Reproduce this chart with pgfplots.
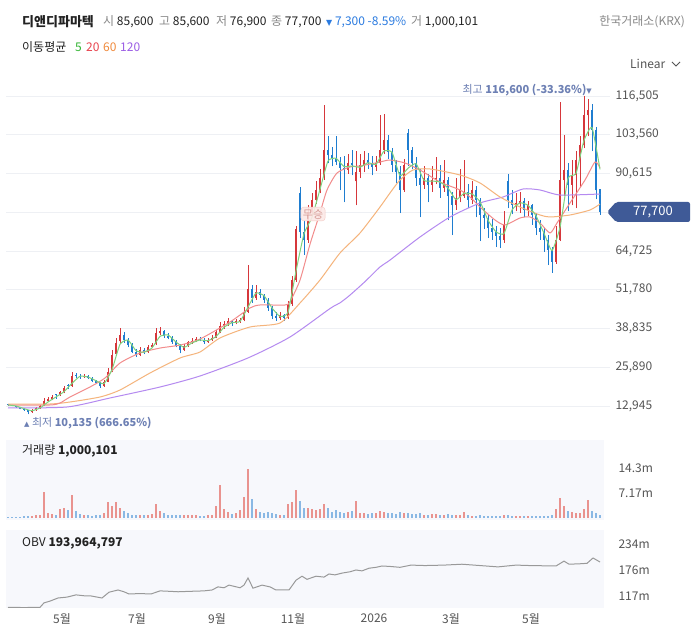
\documentclass[border=0pt]{standalone}
\usepackage{pgfplots}
\pgfplotsset{compat=1.18}
\usepackage{pgfplotstable}
\usepackage{fontspec}
\setmainfont{Noto Sans CJK KR}
\newfontfamily\sym{DejaVu Sans}
\definecolor{upc}{HTML}{D6373B}
\definecolor{dnc}{HTML}{1F7DD0}
\definecolor{volup}{HTML}{E9938F}
\definecolor{voldn}{HTML}{8AB8E4}
\definecolor{maA}{HTML}{7ED37E}
\definecolor{maB}{HTML}{F28C8C}
\definecolor{maC}{HTML}{F5B47C}
\definecolor{maD}{HTML}{B58AF0}
\definecolor{lA}{HTML}{34B534}
\definecolor{lB}{HTML}{E8434D}
\definecolor{lC}{HTML}{F08A3C}
\definecolor{lD}{HTML}{9B5DE5}
\definecolor{gridc}{HTML}{EEF0F4}
\definecolor{tickc}{HTML}{555555}
\definecolor{lab}{HTML}{888888}
\definecolor{num}{HTML}{222222}
\definecolor{chg}{HTML}{2B7BE0}
\definecolor{hl}{HTML}{6D80B4}
\definecolor{tagc}{HTML}{3F5A97}
\definecolor{panelc}{HTML}{F7F8FC}
\definecolor{obvc}{HTML}{999999}
\definecolor{mupink}{HTML}{FCE9E7}
\definecolor{mupinkd}{HTML}{F3C9C4}
\definecolor{mutext}{HTML}{D59C96}

\pgfplotsset{
  candle/.style 2 args={draw=none, no markers, forget plot,
    error bars/.cd, y dir=plus, y explicit, error mark=none,
    error bar style={draw=#1, line width=#2}, /pgfplots/.cd},
  isup/.style={restrict expr to domain={\thisrow{c}-\thisrow{o}}{0:1000}},
  isdn/.style={restrict expr to domain={\thisrow{c}-\thisrow{o}}{-1000:-0.0001}},
}

% x = pixel position, o h l c in thousand won, v in million shares
\pgfplotstableread{
x o h l c v
8 13.5 13.7 13.1 13.3 0.4
12 13.3 13.4 12.8 12.95 0.3
16 12.95 13.1 12.4 12.6 0.3
20 12.6 12.7 11.8 12.0 0.4
24 12.0 12.2 11.4 11.6 0.5
28 11.6 11.7 10.135 10.9 0.6
32 10.9 11.9 10.7 11.6 0.7
36 11.6 12.5 11.4 12.3 0.8
40 12.3 13.3 12.1 12.95 1.0
44 13.0 15.5 12.9 14.6 7.5
48 14.6 15.8 14.2 15.3 1.5
52 15.3 16.5 14.9 16.0 1.2
56 16.8 17.0 15.4 16.6 1.0
60 16.6 18.0 16.3 17.6 2.5
64 17.6 19.5 17.2 18.95 2.8
68 19.9 20.2 18.5 19.6 2.2
72 19.6 24.3 19.4 23.0 6.6
76 23.2 24.0 22.2 23.0 2.0
80 23.0 23.6 22.1 22.6 1.2
84 22.6 23.5 22.3 23.0 0.9
88 23.0 23.3 21.9 22.3 0.8
92 22.3 22.6 20.9 21.3 0.7
96 21.3 21.7 20.2 20.6 0.8
100 20.6 21.0 19.0 19.6 0.9
104 19.6 21.5 19.3 21.0 1.4
108 21.0 25.5 20.8 24.3 4.6
112 24.5 31.5 24.2 30.0 3.5
116 30.2 35.5 29.8 34.0 4.6
120 34.5 39.0 33.5 36.7 3.0
124 36.7 37.5 34.0 35.0 2.0
128 35.0 35.8 32.5 33.3 1.4
132 33.3 34.0 30.5 31.0 1.0
136 31.0 32.0 29.3 30.0 1.0
140 30.0 32.5 29.8 31.7 1.0
144 31.7 32.3 30.3 31.0 0.8
148 31.0 33.3 30.8 32.7 1.0
152 32.7 34.0 32.2 33.3 1.2
156 33.5 39.0 33.3 37.3 4.0
160 37.3 39.5 36.5 38.0 2.0
164 38.0 38.5 35.8 36.3 1.5
168 36.3 37.2 35.2 35.7 1.0
172 35.7 36.2 33.8 34.3 0.9
176 34.3 35.0 32.5 33.0 0.8
180 33.0 33.5 30.5 31.7 1.0
184 31.7 33.5 31.3 33.0 0.9
188 33.0 34.8 32.7 34.3 0.8
192 34.3 35.5 33.8 34.7 0.8
196 34.7 36.0 34.3 35.3 0.9
200 35.3 35.9 34.5 35.0 0.7
204 35.0 35.5 33.8 34.3 0.7
208 34.3 35.6 34.0 35.0 0.8
212 35.0 36.5 34.8 35.7 0.9
216 35.7 38.5 35.5 37.7 3.5
220 37.7 41.0 37.3 39.7 9.5
224 39.7 41.5 38.8 40.3 2.5
228 40.3 42.3 39.8 41.3 1.6
232 41.3 41.8 39.8 40.7 1.2
236 40.7 42.0 40.2 41.3 1.3
240 41.3 42.5 40.8 41.7 2.4
244 41.7 46.0 41.2 44.3 6.0
248 44.5 60.0 44.0 52.0 14.0
252 52.0 53.5 47.5 49.0 5.5
256 49.0 53.5 48.5 51.0 2.5
260 51.0 52.0 49.0 50.0 1.8
264 50.0 50.5 47.5 48.4 1.5
268 48.4 49.0 44.8 45.7 1.6
272 45.7 46.5 42.0 43.0 1.4
276 43.0 44.5 41.5 42.3 1.2
280 42.3 44.3 41.8 43.3 1.0
284 43.3 43.8 41.5 42.3 1.0
288 42.3 48.0 42.0 47.0 4.0
292 47.0 56.5 46.5 55.0 4.6
296 55.0 73.0 54.5 72.0 8.0
300 84.0 86.0 69.0 71.0 5.0
304 71.0 75.0 63.5 68.4 3.0
308 68.4 80.0 67.5 77.8 3.0
312 77.8 84.0 76.0 81.8 2.5
316 81.8 88.0 80.5 85.1 2.2
320 85.1 92.0 84.0 89.1 2.5
324 89.5 113.5 88.5 98.5 4.0
328 98.5 103.0 94.0 96.8 2.8
332 96.8 99.5 93.0 95.8 1.6
336 95.8 103.0 93.5 94.5 2.2
340 94.5 96.0 85.0 92.5 1.8
344 92.5 96.5 81.0 91.8 1.5
348 91.8 97.0 90.5 94.1 1.7
352 94.1 98.5 90.0 93.5 2.0
356 88.0 98.0 80.0 91.1 4.9
360 91.1 97.0 89.0 93.5 1.5
364 93.5 98.0 91.0 95.1 1.4
368 95.1 97.5 92.0 94.1 1.2
372 94.1 96.5 90.0 92.8 1.3
376 92.8 96.5 91.5 94.1 1.5
380 94.1 110.0 93.5 98.5 2.0
384 98.5 110.5 97.0 101.8 1.8
388 101.8 103.5 95.5 97.8 1.5
392 97.8 99.0 91.0 93.5 1.3
396 93.5 95.0 87.5 91.1 1.2
400 91.1 93.0 77.4 85.1 1.7
404 85.1 95.5 84.5 93.5 1.4
408 104.0 105.5 93.0 98.5 1.5
412 98.5 99.5 92.0 94.1 1.2
416 94.1 96.0 86.5 89.1 1.1
420 89.1 92.0 76.0 86.8 1.3
424 86.8 93.0 85.5 89.1 1.0
428 89.1 90.5 81.0 86.8 0.9
432 86.8 93.0 84.5 88.4 1.1
436 88.4 96.0 87.0 89.1 1.2
440 89.1 93.5 82.5 85.8 1.0
444 85.8 95.0 84.5 88.4 1.0
448 88.4 89.5 75.0 83.1 1.1
452 83.1 84.5 70.0 80.1 1.0
456 80.1 89.0 78.5 82.4 0.9
460 82.4 92.0 81.0 85.1 0.9
464 83.0 95.0 82.5 84.4 1.7
468 84.4 87.0 79.0 81.8 0.8
472 81.8 88.0 80.5 85.1 0.7
476 85.1 86.5 76.0 81.8 0.7
480 81.8 82.5 68.0 76.8 0.8
484 76.8 79.0 72.0 75.8 0.6
488 75.8 77.0 69.0 72.5 0.6
492 72.5 75.5 68.5 71.1 0.6
496 71.1 73.0 66.0 69.8 0.5
500 69.8 72.5 65.7 68.4 0.7
504 68.4 78.0 67.5 73.4 0.8
508 88.0 90.4 79.0 81.8 0.9
512 81.8 85.0 77.0 80.1 0.7
516 80.1 84.0 78.0 80.8 0.6
520 80.8 84.4 77.5 81.5 0.6
524 81.5 82.5 76.0 78.4 0.5
528 78.4 81.5 76.5 80.1 0.5
532 80.1 80.5 73.5 76.8 0.6
536 76.8 77.5 70.0 72.5 0.5
540 72.5 75.0 68.5 71.1 0.5
544 71.1 72.5 64.5 68.4 0.6
548 68.4 70.0 60.0 65.1 0.7
552 65.1 66.0 57.4 61.1 0.9
556 61.1 73.0 60.5 68.4 2.5
560 68.4 114.5 68.0 88.4 5.7
564 88.4 103.5 83.0 91.8 3.5
568 91.8 94.0 78.0 86.8 2.0
572 86.8 95.0 80.0 90.1 1.6
576 90.1 98.0 79.0 95.0 1.4
580 95.0 103.0 86.0 100.0 1.5
584 100.0 116.6 99.0 110.0 2.5
588 110.0 115.5 103.0 112.0 5.2
592 112.0 114.0 98.0 105.0 2.0
596 105.0 106.0 82.0 85.0 1.5
600 85.6 85.6 76.9 77.7 1.0
}\candles

\begin{document}
\begin{tikzpicture}[x=1pt,y=1pt]
\useasboundingbox (0,0) rectangle (693,644);
\fill[white] (0,0) rectangle (693,644);

% ---------------- price panel ----------------
\begin{axis}[
  at={(6pt,228pt)}, anchor=south west, scale only axis,
  width=604pt, height=328pt,
  xmin=6, xmax=610, ymin=9.604, ymax=119.189,
  axis line style={draw=none}, tick style={draw=none},
  xtick=\empty,
  ytick={12.945,25.89,38.835,51.78,64.725,77.67,90.615,103.56,116.505},
  yticklabels={{12,945},{25,890},{38,835},{51,780},{64,725},{},{90,615},{103,560},{116,505}},
  yticklabel pos=right,
  yticklabel style={anchor=west, font=\fontsize{12}{14}\selectfont, text=tickc, xshift=2pt},
  ymajorgrids, major grid style={color=gridc, line width=0.7pt},
]
\addplot[isup, candle={upc}{0.8pt}]
  table[x=x, y=l, y error plus expr=\thisrow{h}-\thisrow{l}] {\candles};
\addplot[isup, candle={upc}{1.6pt}]
  table[x=x, y=o, y error plus expr=\thisrow{c}-\thisrow{o}] {\candles};
\addplot[isdn, candle={dnc}{0.8pt}]
  table[x=x, y=l, y error plus expr=\thisrow{h}-\thisrow{l}] {\candles};
\addplot[isdn, candle={dnc}{1.6pt}]
  table[x=x, y=c, y error plus expr=\thisrow{o}-\thisrow{c}] {\candles};

% MA120
\addplot[maD, line width=1pt, smooth, tension=0.4] coordinates {
(8,12.28)(67,12.61)(110,15.62)(160,19.29)(200,22.97)(248,29.0)(290,36.0)(330,45.5)(340,47.4)(350,50.0)(365,54.5)(380,59.4)(390,61.7)(420,69.41)(450,76.09)(480,80.77)(503,82.77)(523,85.44)(540,85.11)(560,83.44)(600,83.77)};
% MA60
\addplot[maC, line width=1pt, smooth, tension=0.4] coordinates {
(8,13.61)(50,13.61)(70,14.28)(100,15.95)(120,18.29)(150,23.97)(180,28.98)(200,30.99)(220,35.67)(250,39.34)(280,40.68)(300,47.36)(320,55.04)(340,64.06)(360,70.74)(380,79.43)(390,84.11)(400,88.45)(413,91.79)(430,92.13)(460,90.12)(480,87.45)(500,82.77)(520,79.43)(540,76.76)(550,76.09)(570,76.76)(590,78.43)(600,80.43)};
% MA20
\addplot[maB, line width=1pt, smooth, tension=0.4] coordinates {
(8,13.28)(50,13.28)(60,13.95)(70,15.95)(90,19.3)(105,22.3)(120,27.3)(140,30.65)(160,32.3)(180,33.3)(200,35.33)(230,41.01)(250,45.69)(260,46.69)(285,46.69)(290,47.8)(300,55.0)(310,67.0)(320,77.43)(327,85.11)(337,90.79)(350,92.8)(360,93.13)(380,94.46)(390,95.13)(405,94.13)(420,91.79)(440,87.78)(460,85.11)(470,82.77)(480,79.43)(495,75.09)(505,73.42)(520,75.76)(530,76.09)(540,74.09)(550,70.75)(557,74.09)(570,80.77)(585,88.45)(595,94.46)(600,92.46)};
% MA5
\addplot[maA, line width=1pt, smooth, tension=0.3] coordinates {
(8,13.3)(16,12.95)(24,12.07)(32,11.37)(40,12.28)(48,14.28)(56,15.97)(64,17.72)(72,20.52)(80,22.87)(88,22.63)(96,21.4)(104,20.4)(112,25.1)(120,33.57)(128,35.0)(136,31.43)(144,30.9)(152,32.33)(160,36.2)(168,36.67)(176,34.33)(184,32.57)(192,34.0)(200,35.0)(208,34.77)(216,36.13)(224,39.23)(232,40.77)(240,41.23)(248,46.0)(256,50.67)(264,49.8)(272,45.7)(280,42.87)(288,44.2)(296,58.0)(304,70.47)(312,76.0)(320,85.33)(328,94.8)(336,95.7)(344,92.93)(352,93.13)(360,92.7)(368,94.23)(376,93.67)(384,98.13)(392,97.7)(400,89.9)(408,92.37)(416,93.9)(424,88.33)(432,88.1)(440,87.77)(448,85.77)(456,81.87)(464,83.97)(472,83.77)(480,81.23)(488,75.03)(496,71.13)(504,70.53)(512,78.43)(520,80.8)(528,80.0)(536,76.47)(544,70.67)(552,64.87)(560,72.63)(568,89.0)(576,90.63)(584,101.67)(592,106.0)(600,92.0)};
\end{axis}

% ---------------- volume panel ----------------
\begin{axis}[
  at={(6pt,124pt)}, anchor=south west, scale only axis,
  width=598pt, height=80pt,
  xmin=6, xmax=604, ymin=-0.574, ymax=22.37,
  axis background/.style={fill=panelc},
  axis line style={draw=none}, tick style={draw=none},
  xtick=\empty,
  ytick={7.17,14.3}, yticklabels={7.17m,14.3m},
  yticklabel pos=right,
  yticklabel style={anchor=west, font=\fontsize{12}{14}\selectfont, text=tickc, xshift=11pt},
]
\addplot[isup, ycomb, no markers, draw=volup, line width=1.4pt]
  table[x=x, y=v] {\candles};
\addplot[isdn, ycomb, no markers, draw=voldn, line width=1.4pt]
  table[x=x, y=v] {\candles};
\end{axis}

% ---------------- OBV panel ----------------
\begin{axis}[
  at={(6pt,36pt)}, anchor=south west, scale only axis,
  width=598pt, height=78pt,
  xmin=6, xmax=604, ymin=90.5, ymax=266,
  axis background/.style={fill=panelc},
  axis line style={draw=none}, tick style={draw=none},
  ytick={117,176,234}, yticklabels={117m,176m,234m},
  yticklabel pos=right,
  yticklabel style={anchor=west, font=\fontsize{12}{14}\selectfont, text=tickc, xshift=11pt},
  xtick={62,137,217,293,374,451,531},
  xticklabels={5월,7월,9월,11월,2026,3월,5월},
  xticklabel style={font=\fontsize{12}{14}\selectfont, text=tickc, yshift=-2pt},
]
\addplot[obvc, line width=1pt] coordinates {
(8,92)(24,91.5)(40,92)(44,102)(50,106)(58,113)(67,115)(76,120)(84,118)(90,118)(102,113)(109,126)(118,131)(124,127)(129,122)(140,123)(151,122)(160,129)(170,128)(178,127)(190,128)(204,129)(212,131)(218,138)(224,136)(229,142)(240,136)(244,142)(248,158)(253,135)(262,142)(270,138)(276,131)(289,131)(296,153)(302,162)(307,155)(316,162)(324,160)(329,167)(335,165)(342,169)(350,172)(356,176)(362,174)(369,180)(376,182)(382,185)(390,184)(400,182)(411,187)(425,186)(444,187)(462,189)(480,186)(498,183)(516,187)(530,186)(556,185)(564,196)(569,189)(580,190)(587,191)(593,203)(600,194)};
\end{axis}

% ---------------- texts ----------------
\begin{scope}[every node/.style={inner sep=0pt, font=\fontsize{12}{14}\selectfont}]
\node[anchor=west, font=\fontsize{13}{15}\selectfont\bfseries, text=num] at (22,622) {디앤디파마텍};
\node[anchor=west] at (103,622) {\color{lab}시 \color{num}85,600};
\node[anchor=west] at (159,622) {\color{lab}고 \color{num}85,600};
\node[anchor=west] at (216,622) {\color{lab}저 \color{num}76,900};
\node[anchor=west] at (271,622) {\color{lab}종 \color{num}77,700};
\node[anchor=west, text=chg] at (326,622) {{\sym\fontsize{8}{9}\selectfont▼} 7,300 -8.59\%};
\node[anchor=west] at (411,622) {\color{lab}거 \color{num}1,000,101};
\node[anchor=east, text=lab] at (685,622) {한국거래소(KRX)};

\node[anchor=west, text=num] at (22,597) {이동평균};
\node[anchor=west, text=lA] at (75,597) {5};
\node[anchor=west, text=lB] at (86,597) {20};
\node[anchor=west, text=lC] at (103,597) {60};
\node[anchor=west, text=lD] at (120,597) {120};

\node[anchor=west, text=tickc] at (630,580) {Linear};
\draw[tickc, line width=0.8pt] (672,582) -- (676,578) -- (680,582);

\node[anchor=east, text=hl, font=\fontsize{11}{13}\selectfont] at (592,554) {최고 \textbf{116,600 (-33.36\%)}{\sym\fontsize{7}{8}\selectfont▼}};
\node[anchor=west, text=hl, font=\fontsize{11}{13}\selectfont] at (24,221) {{\sym\fontsize{7}{8}\selectfont▲} 최저 \textbf{10,135 (666.65\%)}};

\node[anchor=west, text=num] at (22,193) {거래량 \textbf{1,000,101}};
\node[anchor=west, text=num] at (22,101) {OBV \textbf{193,964,797}};
\end{scope}

% price tag
\fill[tagc, rounded corners=2pt] (607,432) -- (616,442) -- (690,442) -- (690,422) -- (616,422) -- cycle;
\node[text=white, inner sep=0pt, font=\fontsize{13}{15}\selectfont] at (653,432) {77,700};

% 무승 tag
\node[fill=mupink, draw=mupinkd, rounded corners=3pt, text=mutext, inner sep=2pt,
  font=\fontsize{11}{12}\selectfont, fill opacity=0.9, text opacity=1] at (313,430) {무승};
\end{tikzpicture}
\end{document}
